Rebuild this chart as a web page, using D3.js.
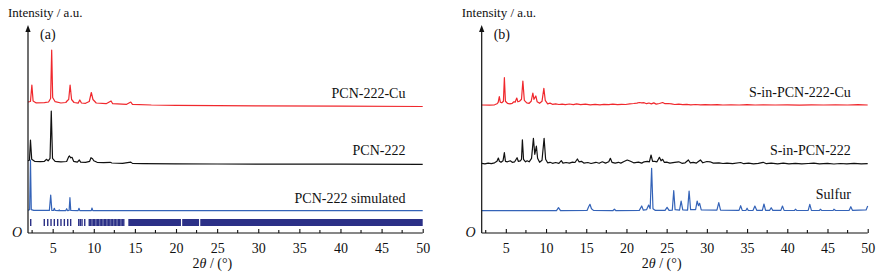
<!DOCTYPE html>
<html>
<head>
<meta charset="utf-8">
<script src="https://cdn.jsdelivr.net/npm/d3@7"></script>
<style>
  body { margin: 0; background: #fff; }
  svg { display: block; font-family: "Liberation Serif", "Times New Roman", serif; }
</style>
</head>
<body>
<svg id="chart" width="881" height="276"></svg>
<script>
// ---- data: [2theta, intensity above the trace baseline] ----
const xTickValues = [5, 10, 15, 20, 25, 30, 35, 40, 45, 50];
const xMinorValues = [2.5, 7.5, 12.5, 17.5, 22.5, 27.5, 32.5, 37.5, 42.5, 47.5];

const pcn222Cu = [[2.0,4.5],[2.3,5],[2.47,21.5],[2.62,5.5],[3.0,3.6],[4.0,3.8],[4.5,4.5],[4.75,8],[4.88,56.5],[5.0,9],
  [5.3,4.8],[6.0,3.5],[6.6,4],[6.8,6],[6.95,7],[7.12,21.5],[7.3,7],[7.6,4],[8.1,3.4],[8.3,6.5],[8.5,3.5],[9.0,3.2],
  [9.45,5],[9.7,14],[9.9,7],[10.3,3.5],[11.5,2.8],[12.1,5.5],[12.3,2.8],[14.0,2.2],[14.5,4.5],[14.7,2.2],[17,1.5],
  [20,1.2],[25,0.9],[30,0.6],[40,0.3],[50,0]];

const pcn222 = [[2.0,3.5],[2.18,4],[2.3,24.3],[2.45,5],[2.8,3],[3.5,2.6],[4.0,3],[4.27,5],[4.45,3.5],[4.68,6],[4.83,53.3],
  [4.98,6],[5.3,3],[6.0,2.4],[6.7,2.8],[6.95,7.5],[7.05,8.3],[7.2,6.5],[7.35,7],[7.55,3],[8.0,2.2],[8.24,4.3],[8.4,2.2],
  [9.0,2],[9.5,3],[9.66,6.6],[9.85,5.5],[10.0,3.5],[10.4,2],[11.2,1.6],[12.0,2],[12.2,1.3],[13.5,1],[14.5,2.2],[14.7,0.9],
  [16,0.7],[20,0.5],[25,0.3],[30,0.2],[40,0.1],[50,0]];

const pcn222Sim = [[2.0,0.5],[2.2,1],[2.3,50.7],[2.4,1],[2.7,0.3],[4.6,0.3],[4.76,15.7],[4.9,0.3],[5.1,0.2],[5.2,2.4],[5.3,0.2],
  [5.75,0.1],[5.8,0.8],[5.85,0.1],[6.6,0.1],[6.7,2],[6.8,0.1],[7.0,0.2],[7.1,13],[7.2,0.2],[8.1,0.1],[8.2,2.4],[8.3,0.1],
  [9.7,0.1],[9.78,2.7],[9.88,0.1],[50,0]];

// simulated reflection positions (single lines) and the solid stretches at high angle
const braggLines = [2.33, 3.98, 4.40, 4.80, 5.20, 5.61, 6.01, 6.42, 6.83, 7.19, 8.17, 8.36, 8.57, 8.90,
  9.45, 9.6, 9.78, 9.95, 10.1, 10.28, 10.45, 10.6, 10.78, 10.95, 11.12, 11.3, 11.45, 11.62, 11.8, 11.95,
  12.12, 12.3, 12.48, 12.65, 12.82, 13.0, 13.15, 13.32, 13.5, 13.65];
const braggBands = [[14.2, 20.6], [20.75, 22.8], [22.95, 50]];

const sPcn222Cu = [[2.0,0.3],[3.0,0.2],[3.6,0.5],[3.9,1.5],[4.05,3],[4.19,8.6],[4.32,3],[4.5,2.5],[4.7,4],[4.82,27.6],[4.95,4],
  [5.2,2],[5.5,1.5],[5.8,2],[6.0,3.5],[6.15,3],[6.36,7.3],[6.5,3.5],[6.7,4],[6.95,6],[7.12,24.3],[7.3,5],[7.6,2.5],[7.9,2],
  [8.15,4],[8.36,12.3],[8.5,6],[8.73,9.3],[8.9,3.5],[9.2,2],[9.5,4],[9.73,17],[9.9,5],[10.2,1.5],[10.5,2.2],[10.8,1],
  [11.2,1.5],[11.6,0.8],[12.0,1.2],[12.4,0.6],[12.9,1.3],[13.4,0.7],[13.8,1.4],[14.3,0.6],[14.9,1.1],[15.5,0.5],[16.1,1],
  [16.7,0.5],[17.2,1],[17.8,0.6],[18.3,1.1],[18.9,0.6],[19.4,1],[19.9,0.8],[20.4,1.4],[20.9,1.8],[21.3,2.2],[21.6,2.8],
  [21.9,2.5],[22.2,2.6],[22.5,1.6],[22.8,2.3],[23.1,1.4],[23.4,2.4],[23.7,1.2],[24.1,1.8],[24.5,2.8],[24.8,1.6],[25.2,1.8],
  [25.6,1.5],[26.0,0.8],[26.5,1.2],[27.0,0.6],[27.5,0.9],[28.0,0.5],[28.6,0.8],[29.2,0.4],[29.8,0.7],[30.5,0.4],[31.3,0.6],
  [32.0,0.3],[33.0,0.5],[34.0,0.3],[35.0,0.6],[36.0,0.3],[37.0,0.5],[38.5,0.3],[40.0,0.4],[41.5,0.2],[43.0,0.4],[44.5,0.3],
  [46.0,0.5],[47.5,0.3],[48.8,0.6],[50.0,0.3]];

const sPcn222 = [[2.0,1],[2.4,0.5],[2.8,1.2],[3.2,0.6],[3.6,1.5],[3.9,3],[4.07,6.3],[4.2,3],[4.4,2],[4.65,3.5],[4.82,11.6],
  [4.95,3],[5.2,2.5],[5.55,3.5],[5.8,2],[6.1,2.5],[6.4,6.6],[6.55,3],[6.8,3.5],[6.95,5],[7.06,24.5],[7.2,5],[7.45,2.5],
  [7.65,3.5],[7.9,2.5],[8.2,6],[8.43,26],[8.6,10],[8.8,18.3],[8.95,6],[9.2,2],[9.5,4],[9.76,26],[9.95,5],[10.2,1.5],
  [10.5,2],[10.8,1],[11.2,1.8],[11.6,1],[11.9,3.6],[12.1,1.2],[12.5,1.8],[12.9,1.2],[13.3,2.2],[13.6,1.8],[13.9,5.3],
  [14.1,2.5],[14.4,3],[14.7,1.2],[15.2,1.8],[15.6,0.8],[16.2,2],[16.6,1],[17.0,2.5],[17.4,1.2],[17.8,2.5],[18.0,6],
  [18.2,2],[18.6,1.2],[19.0,2],[19.3,1.2],[19.7,2.8],[20.1,4.3],[20.5,3],[20.9,1.5],[21.5,2.2],[21.9,1.2],[22.2,2.5],
  [22.6,3],[22.85,2.5],[23.06,9.3],[23.25,3],[23.5,3],[23.8,2.5],[24.1,7],[24.3,3.5],[24.5,5],[24.7,2],[25.0,2.2],
  [25.4,1.2],[26.0,2],[26.5,2.5],[26.9,1],[27.3,1.5],[27.7,4.3],[27.95,1.5],[28.3,2],[28.7,1.2],[29.2,4.3],[29.5,1.5],
  [30.0,2.8],[30.4,2.5],[30.8,1.2],[31.5,1.5],[32.0,0.8],[32.5,1.2],[33.2,0.6],[34.2,1.8],[34.6,0.6],[35.2,1.2],
  [35.8,0.5],[36.4,0.9],[37.0,2],[37.4,0.6],[38.0,1.2],[38.8,0.5],[39.5,1.1],[40.2,0.4],[41.0,0.9],[41.8,0.4],
  [42.6,0.8],[43.3,1.1],[44.0,0.4],[45.0,0.9],[45.8,0.3],[46.6,0.8],[47.4,0.4],[48.3,1],[49.2,0.4],[50,0.6]];

const sulfur = [[2,0],[11.3,0],[11.55,3],[11.8,0],[15.1,0.3],[15.3,4],[15.46,6.4],[15.65,2],[15.9,0.3],[18.3,0],[18.5,1.5],
  [18.7,0],[21.6,0.3],[21.9,4.7],[22.1,0.5],[22.5,1],[22.76,5.7],[22.95,2],[23.13,42.4],[23.3,2],[23.6,0.3],[24.8,0.3],
  [25.05,3.4],[25.3,0.3],[25.7,0.5],[25.88,20],[26.05,1],[26.6,0.5],[26.8,9.7],[27.0,0.8],[27.6,0.6],[27.79,19.7],
  [27.98,1],[28.6,1],[28.79,9.7],[28.95,5],[29.1,7.4],[29.3,0.8],[31.25,0.5],[31.48,8],[31.7,0.5],[34.0,0.3],[34.2,5],
  [34.4,0.3],[34.85,0.2],[35.0,2.5],[35.15,0.2],[35.75,0.4],[35.97,4.7],[36.2,0.4],[36.9,0.4],[37.1,6.7],[37.3,0.4],
  [37.8,0.3],[38.0,3],[38.2,0.3],[39.2,0.3],[39.4,4.7],[39.6,0.3],[40.9,0.2],[41.0,1.5],[41.2,0.2],[42.6,0.3],[42.8,6.4],
  [43.0,0.4],[44.0,0.2],[44.1,1.5],[44.3,0.2],[45.7,0.2],[45.8,1.5],[46.0,0.2],[47.7,0.4],[47.9,4],[48.1,0.4],[49.8,0.8],
  [50,4.7]];

// ---- layout ----
const svg = d3.select("#chart");
const axisY = 233, axisTop = 25;
const y = d3.scaleLinear().domain([0, 208]).range([axisY, axisTop]);

const RED = "#f0282d", BLACK = "#111", BLUE = "#3463b8", NAVY = "#2b3087";

const panels = [
  {
    range: [28, 422.7], tag: "(a)",
    traces: [
      { data: pcn222Cu, offset: 126.5, color: RED, label: "PCN-222-Cu", labelY: 98 },
      { data: pcn222, offset: 68.7, color: BLACK, label: "PCN-222", labelY: 155 },
      { data: pcn222Sim, offset: 22.3, color: BLUE, label: "PCN-222 simulated", labelY: 203 }
    ],
    bragg: true
  },
  {
    range: [481.7, 867.7], tag: "(b)",
    traces: [
      { data: sPcn222Cu, offset: 127.7, color: RED, label: "S-in-PCN-222-Cu", labelY: 97 },
      { data: sPcn222, offset: 68.7, color: BLACK, label: "S-in-PCN-222", labelY: 155 },
      { data: sulfur, offset: 22.3, color: BLUE, label: "Sulfur", labelY: 199 }
    ],
    bragg: false
  }
];

panels.forEach(p => {
  const x = d3.scaleLinear().domain([2, 50]).range(p.range);
  const g = svg.append("g");
  const x0 = p.range[0];

  // traces
  p.traces.forEach(t => {
    const line = d3.line().x(d => x(d[0])).y(d => y(t.offset + d[1]));
    g.append("path")
      .attr("d", line(t.data))
      .attr("fill", "none")
      .attr("stroke", t.color)
      .attr("stroke-width", 1.2)
      .attr("stroke-linejoin", "round");

    g.append("text")
      .attr("x", x(47.9))
      .attr("y", t.labelY)
      .attr("text-anchor", "end")
      .style("font-size", "14px")
      .attr("fill", "#111")
      .text(t.label);
  });

  // reflection markers
  if (p.bragg) {
    g.selectAll(".bragg")
      .data(braggLines)
      .enter()
      .append("rect")
      .attr("x", d => x(d) - 0.7)
      .attr("y", 219)
      .attr("width", 1.4)
      .attr("height", 7)
      .attr("fill", NAVY);
    g.selectAll(".band")
      .data(braggBands)
      .enter()
      .append("rect")
      .attr("x", d => x(d[0]))
      .attr("y", 219)
      .attr("width", d => x(d[1]) - x(d[0]))
      .attr("height", 7)
      .attr("fill", NAVY);
  }

  // x axis
  const xAxis = d3.axisBottom(x)
    .tickValues(xTickValues)
    .tickSize(-4)
    .tickPadding(10)
    .tickFormat(d3.format("d"));
  const ax = g.append("g").attr("transform", `translate(0,${axisY})`).call(xAxis);
  ax.select(".domain").attr("d", `M${x0},0H${p.range[1]}`).attr("stroke", "#111").attr("stroke-width", 1.2);
  ax.selectAll(".tick line").attr("stroke", "#111").attr("stroke-width", 1.1);
  ax.selectAll(".tick text").style("font-size", "14px").attr("fill", "#111")
    .style("font-family", '"Liberation Serif", serif');
  ax.selectAll(".minor")
    .data(xMinorValues)
    .enter()
    .append("line")
    .attr("x1", d => x(d)).attr("x2", d => x(d))
    .attr("y1", 0).attr("y2", -3)
    .attr("stroke", "#111").attr("stroke-width", 1.1);

  // y axis with arrow
  g.append("line")
    .attr("x1", x0).attr("x2", x0)
    .attr("y1", axisY).attr("y2", axisTop + 4)
    .attr("stroke", "#111").attr("stroke-width", 1.2);
  g.append("path")
    .attr("d", `M${x0},${axisTop}L${x0 - 2.6},${axisTop + 7}L${x0 + 2.6},${axisTop + 7}Z`)
    .attr("fill", "#111");

  g.append("text")
    .attr("x", x0 - 20).attr("y", 17)
    .style("font-size", "13px").attr("fill", "#111")
    .text("Intensity / a.u.");

  g.append("text")
    .attr("x", x0 + 12).attr("y", 39)
    .style("font-size", "14px").attr("fill", "#111")
    .text(p.tag);

  g.append("text")
    .attr("x", x0 - 6).attr("y", 237)
    .attr("text-anchor", "end")
    .style("font-size", "14px").style("font-style", "italic").attr("fill", "#111")
    .text("O");

  const title = g.append("text")
    .attr("x", (x(2) + x(50)) / 2 - 13).attr("y", 268)
    .attr("text-anchor", "middle")
    .style("font-size", "14px").attr("fill", "#111");
  title.append("tspan").text("2");
  title.append("tspan").style("font-style", "italic").text("θ");
  title.append("tspan").text(" / (°)");
});
</script>
</body>
</html>
